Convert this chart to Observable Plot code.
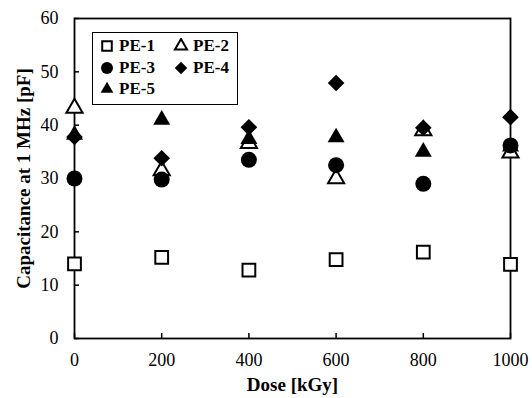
<!DOCTYPE html>
<html><head><meta charset="utf-8">
<script src="https://cdn.jsdelivr.net/npm/d3@7"></script>
<script src="https://cdn.jsdelivr.net/npm/@observablehq/plot@0.6"></script>
<style>
body{margin:0;background:white;}
#wrap{position:relative;width:532px;height:398px;}
#wrap svg text{font-family:'Liberation Serif',Times,serif !important;}
#legend{position:absolute;left:92px;top:32px;width:144px;height:71px;border:1.5px solid black;background:white;font-family:'Liberation Serif',Times,serif;font-weight:bold;font-size:17px;}
.item{position:absolute;display:flex;align-items:center;gap:4px;height:20px;}
</style></head>
<body><div id="wrap"></div>
<script>
const doses = [0, 200, 400, 600, 800, 1000];
const seriesNames = ["PE-1", "PE-2", "PE-3", "PE-4", "PE-5"];
const pe1 = [14.0, 15.2, 12.8, 14.8, 16.2, 13.9];
const pe2 = [43.2, 31.5, 36.6, 30.0, 39.0, 34.8];
const pe3 = [30.0, 29.8, 33.5, 32.5, 29.0, 36.2];
const pe4 = [37.8, 33.8, 39.6, 47.9, 39.5, 41.5];
const pe5 = [38.2, 41.0, 37.4, 37.7, 35.0, 36.0];
const xTicks = [0, 200, 400, 600, 800, 1000];
const yTicks = [0, 10, 20, 30, 40, 50, 60];
const xLabel = "Dose [kGy]";
const yLabel = "Capacitance at 1 MHz [pF]";

const values = [pe1, pe2, pe3, pe4, pe5];
const styles = [
  {symbol: "square", fill: "white", stroke: "black", strokeWidth: 2, r: 7.2},
  {symbol: "triangle", fill: "white", stroke: "black", strokeWidth: 2, r: 6},
  {symbol: "circle", fill: "black", stroke: "black", strokeWidth: 0, r: 8},
  {symbol: "diamond2", fill: "black", stroke: "black", strokeWidth: 0, r: 7.5},
  {symbol: "triangle", fill: "black", stroke: "black", strokeWidth: 0, r: 6.3}
];
const d3sym = {square: d3.symbolSquare, triangle: d3.symbolTriangle, circle: d3.symbolCircle, diamond2: d3.symbolDiamond2};
const tables = values.map(v => doses.map((d, i) => ({dose: d, cap: v[i]})));

const font = "'Liberation Serif', Times, serif";
const chart = Plot.plot({
  width: 532, height: 398,
  marginLeft: 74, marginRight: 22, marginTop: 18, marginBottom: 60,
  x: {domain: [0, 1000]},
  y: {domain: [0, 60]},
  style: {fontFamily: font, fontSize: "18px", background: "white", color: "black"},
  marks: [
    Plot.axisX({ticks: xTicks, tickSize: 0, tickPadding: 15, tickFormat: d => String(d), label: null, fontSize: 18, fontFamily: font}),
    Plot.axisX({ticks: xTicks, tickSize: -5, tickFormat: () => "", label: null, strokeWidth: 1.5}),
    Plot.axisY({ticks: yTicks, tickSize: 0, tickPadding: 16, tickFormat: d => String(d), label: null, fontSize: 18, fontFamily: font}),
    Plot.axisY({ticks: yTicks, tickSize: -5, tickFormat: () => "", label: null, strokeWidth: 1.5}),
    Plot.frame({stroke: "black", strokeWidth: 1.8}),
    ...tables.map((t, k) => Plot.dot(t, {x: "dose", y: "cap", ...styles[k]})),
    Plot.text([xLabel], {text: d => d, frameAnchor: "bottom", lineAnchor: "middle", dy: 46, fontWeight: "bold", fontSize: 19, fontFamily: font}),
    Plot.text([yLabel], {text: d => d, frameAnchor: "left", textAnchor: "middle", lineAnchor: "middle", dx: -51, rotate: -90, fontWeight: "bold", fontSize: 19, fontFamily: font})
  ]
});
const wrap = document.getElementById("wrap");
wrap.appendChild(chart);

// legend
const legend = document.createElement("div");
legend.id = "legend";
const pos = [[6, 3], [80, 3], [6, 25], [80, 25], [6, 46]];
const symSvg = k => {
  const s = styles[k];
  const p = d3.symbol(d3sym[s.symbol], Math.PI * (s.r * 0.75) ** 2)();
  return `<svg width="16" height="16" viewBox="-8 -8 16 16"><path d="${p}" fill="${s.fill}" stroke="${s.stroke}" stroke-width="${s.strokeWidth}"/></svg>`;
};
seriesNames.forEach((n, k) => {
  const it = document.createElement("div");
  it.className = "item";
  it.style.left = pos[k][0] + "px";
  it.style.top = pos[k][1] + "px";
  it.innerHTML = symSvg(k) + `<span>${n}</span>`;
  legend.appendChild(it);
});
wrap.appendChild(legend);
</script></body></html>
